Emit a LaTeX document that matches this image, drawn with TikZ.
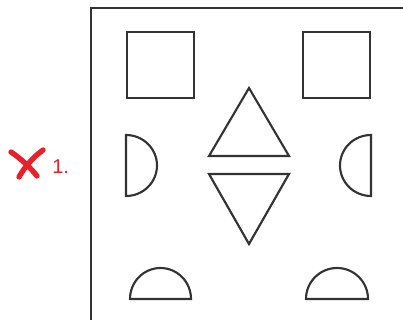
\documentclass[tikz,border=0pt]{standalone}
\usepackage{fontspec}
\setmainfont{Liberation Sans}
\definecolor{ink}{HTML}{333333}
\definecolor{redmark}{HTML}{E8202A}
\begin{document}
\begin{tikzpicture}[x=0.75pt,y=-0.75pt,
  figline/.style={draw=ink,line width=1.6pt,line join=miter},
  outerline/.style={draw=ink,line width=1.9pt},
  redx/.style={draw=redmark,line width=4pt,line cap=round}]
\useasboundingbox (0,0) rectangle (403,320);
\clip (0,0) rectangle (403,320);
% frame
\draw[outerline] (91,330) -- (91,8) -- (420,8);
% squares
\draw[figline] (127,32) rectangle (194,98);
\draw[figline] (303,32) rectangle (370,98);
% triangles
\draw[figline] (249,88) -- (289,156) -- (209,156) -- cycle;
\draw[figline] (209,174) -- (289,174) -- (249,244) -- cycle;
% side half circles
\draw[figline] (126,135) arc[start angle=-90,end angle=90,x radius=31,y radius=30.5] -- cycle;
\draw[figline] (371,135) arc[start angle=-90,end angle=-270,x radius=31,y radius=30.5] -- cycle;
% bottom half circles
\draw[figline] (130,299) arc[start angle=180,end angle=360,x radius=30.5,y radius=31] -- cycle;
\draw[figline] (306,299) arc[start angle=180,end angle=360,x radius=31,y radius=31] -- cycle;
% red cross
\draw[redx] (11,152) .. controls (20,158) and (30,167) .. (37,176);
\draw[redx] (43,150) .. controls (32,158) and (24,168) .. (19,177);
\node[text=redmark,font=\fontsize{15pt}{17pt}\selectfont,anchor=base west,inner sep=0pt] (num) at (52,174) {1.};
\end{tikzpicture}
\end{document}
